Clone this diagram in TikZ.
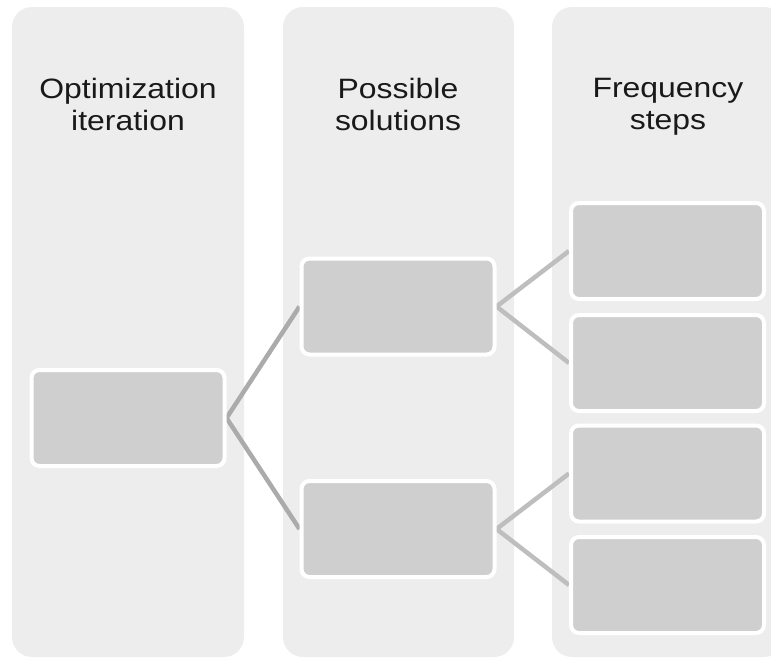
\documentclass[tikz,border=0pt]{standalone}
\usepackage{fontspec}
\setmainfont{Liberation Sans}[FakeStretch=1.14]
\pgfdeclarelayer{cols}
\pgfdeclarelayer{links}
\pgfsetlayers{cols,links,main}
\definecolor{colfill}{HTML}{EDEDED}
\definecolor{boxfill}{HTML}{CFCFCF}
\definecolor{linkdark}{HTML}{ABABAB}
\definecolor{linklight}{HTML}{BEBEBE}
\tikzset{
  column/.style={fill=colfill, draw=none, rounded corners=20pt},
  header/.style={align=center, anchor=north, inner sep=0pt, font=\fontsize{28}{32}\selectfont, text=black!90},
  cell/.style={rectangle, rounded corners=8pt, fill=boxfill, draw=white, line width=4pt, inner sep=0pt},
  wide/.style={cell, minimum width=193pt, minimum height=96pt},
  link/.style={line width=4.5pt},
}
\begin{document}
\begin{tikzpicture}[x=1pt, y=-1pt]
\useasboundingbox (0,0) rectangle (771,657);
% three column panels
\begin{pgfonlayer}{cols}
  \fill[column] (12,7) rectangle (244,657);
  \fill[column] (283,7) rectangle (514,657);
  \fill[column] (552,7) rectangle (784,657);
\end{pgfonlayer}
% column headings
\node[header] (h1) at (128,78) {Optimization\\iteration};
\node[header] (h2) at (398,78) {Possible\\solutions};
\node[header] (h3) at (668,78) {Frequency\\steps};
% boxes
\node[wide] (it)  at (128,418) {};
\node[wide] (s1)  at (398,306.5) {};
\node[wide] (s2)  at (398,529) {};
\node[wide] (f1)  at (667.5,251) {};
\node[wide] (f2)  at (667.5,363) {};
\node[wide] (f3)  at (667.5,473.5) {};
\node[wide] (f4)  at (667.5,585) {};
% connectors
\begin{pgfonlayer}{links}
  \draw[link, linkdark] (it.east) -- (s1.west);
  \draw[link, linkdark] (it.east) -- (s2.west);
  \draw[link, linklight] (s1.east) -- (f1.west);
  \draw[link, linklight] (s1.east) -- (f2.west);
  \draw[link, linklight] (s2.east) -- (f3.west);
  \draw[link, linklight] (s2.east) -- (f4.west);
\end{pgfonlayer}
\end{tikzpicture}
\end{document}
